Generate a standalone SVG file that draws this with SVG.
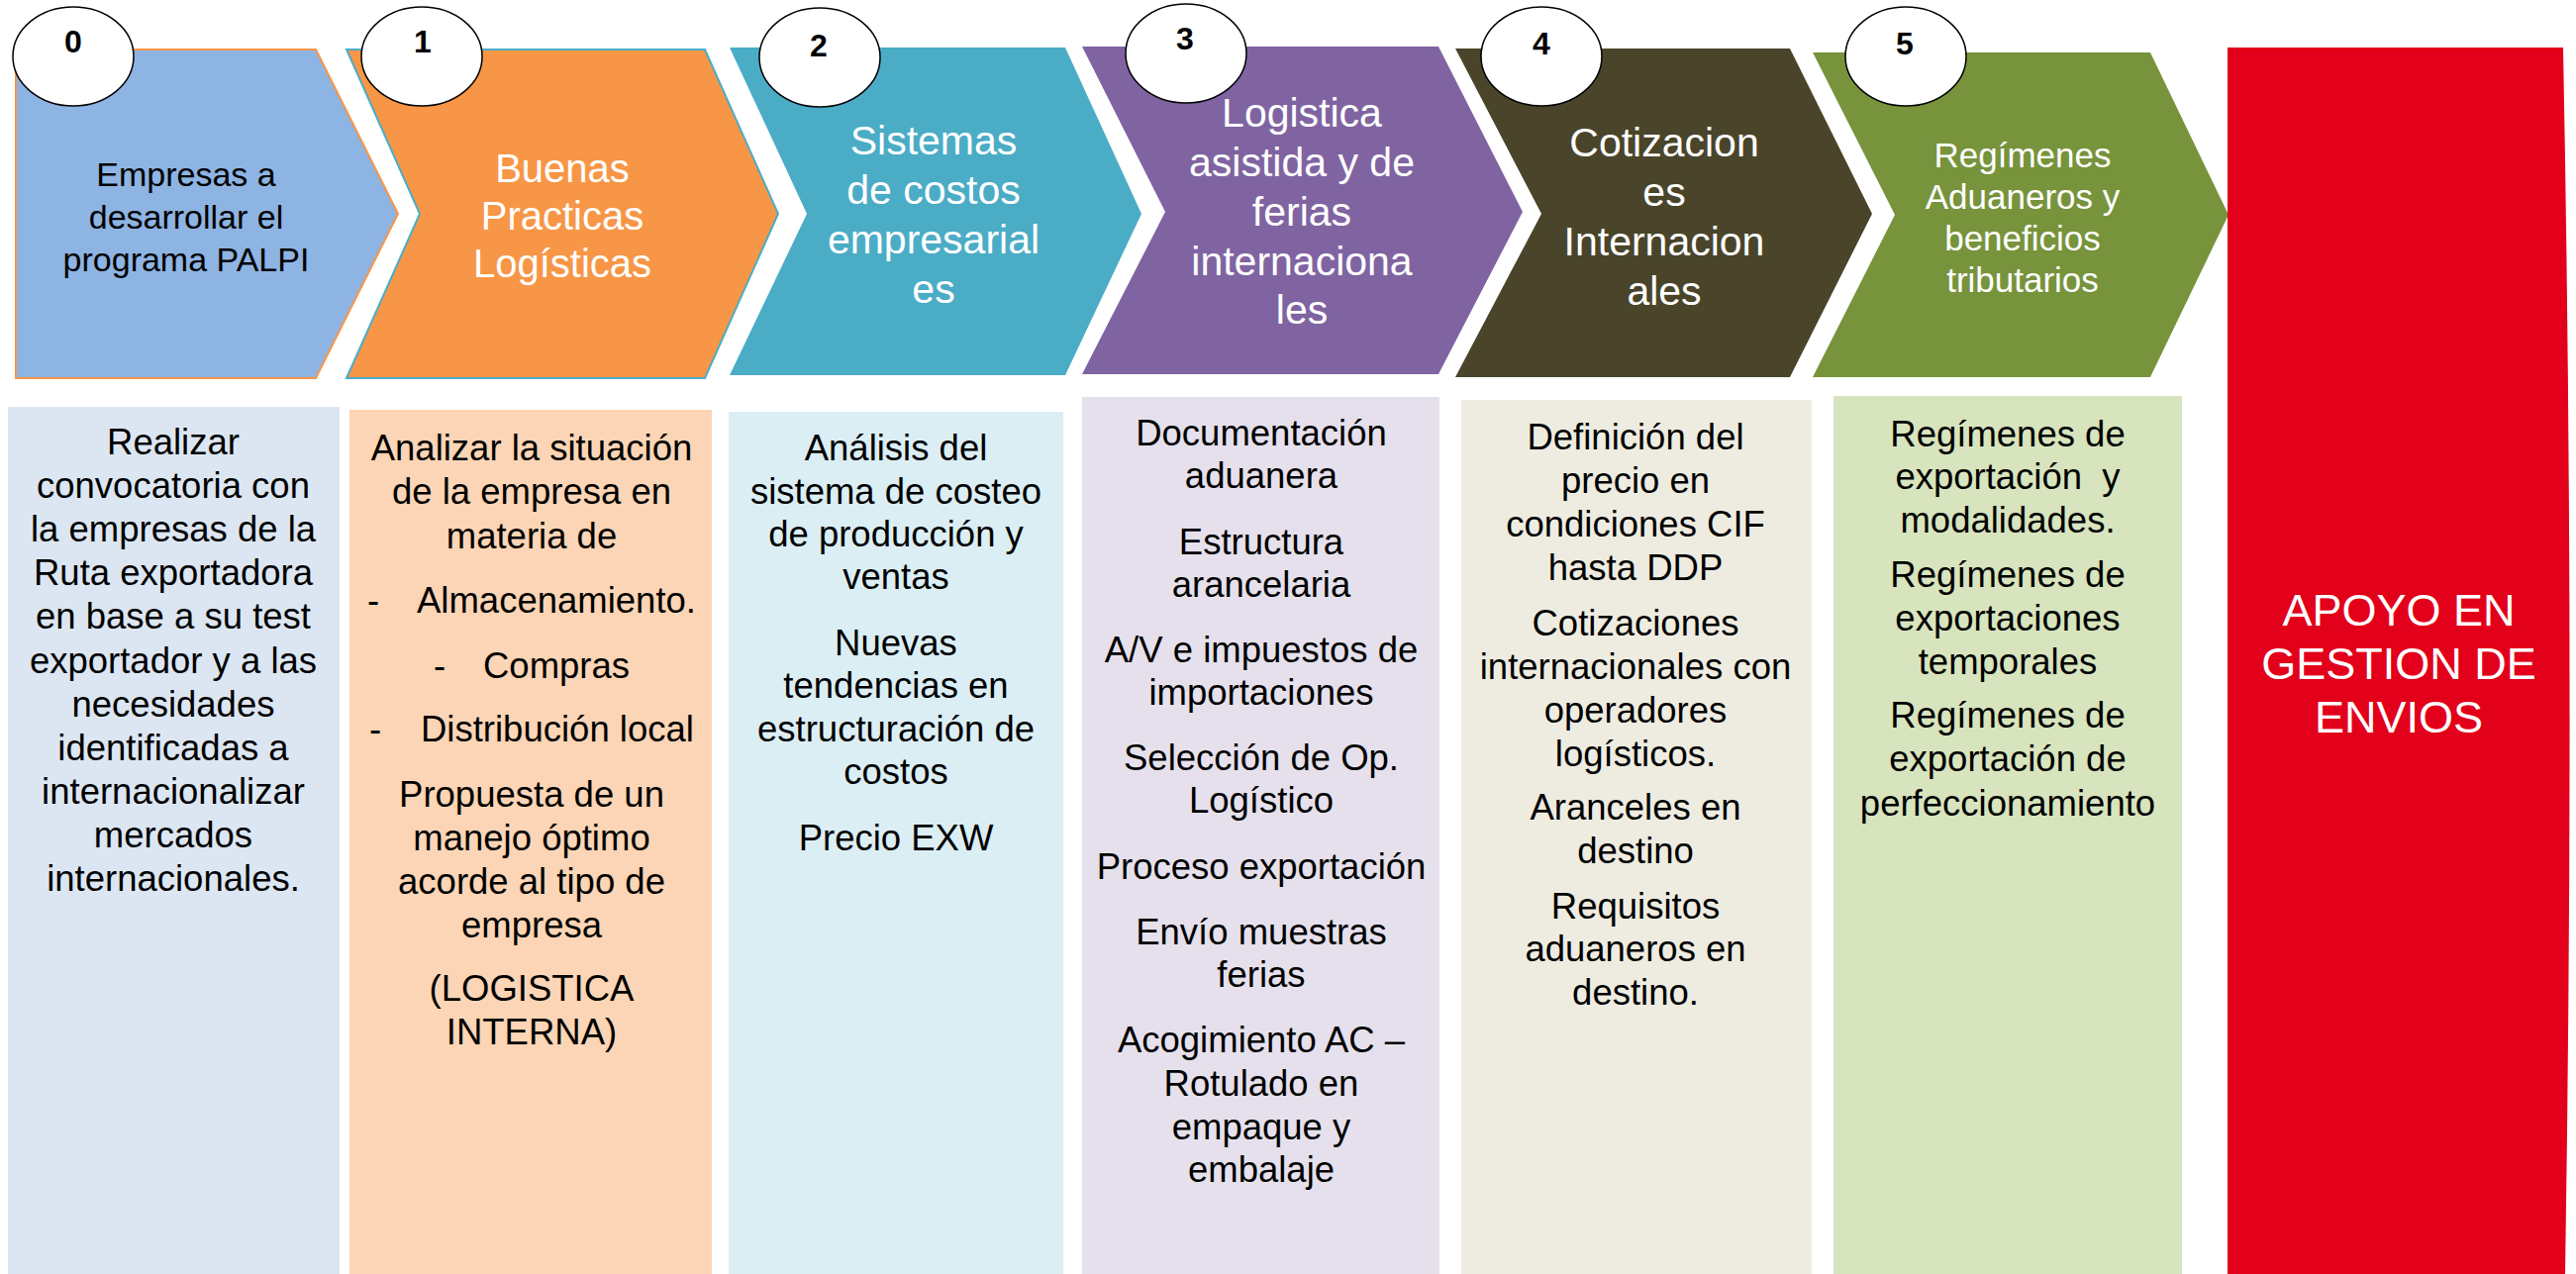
<svg xmlns="http://www.w3.org/2000/svg" width="2602" height="1287" viewBox="0 0 2602 1287">
<style>
text{font-family:"Liberation Sans",Arial,sans-serif;text-anchor:middle}
.b{font-size:36.5px;fill:#000}
.h{fill:#fff}
.num{font-size:32px;font-weight:bold;fill:#000}
.circ{fill:#fff;stroke:#000;stroke-width:1.5}
</style>
<rect width="2602" height="1287" fill="#fff"/>
<g id="connectors"/>
<g id="step0">
<polygon points="16,50 319,50 402,216 319,382 16,382" fill="#8EB4E3" stroke="#F79646" stroke-width="2"/>
<text style="font-size:34px" fill="#000"><tspan x="188" y="188">Empresas a</tspan><tspan x="188" y="231">desarrollar el</tspan><tspan x="188" y="274">programa PALPI</tspan></text>
<ellipse class="circ" cx="74" cy="57" rx="61" ry="50"/>
<text class="num" x="74" y="53">0</text>
</g>
<g id="step1">
<polygon points="350,50 712,50 786,216 712,382 350,382 424,216" fill="#F79646" stroke="#4BACC6" stroke-width="2"/>
<text class="h" style="font-size:40px"><tspan x="568" y="184">Buenas</tspan><tspan x="568" y="232">Practicas</tspan><tspan x="568" y="280">Logísticas</tspan></text>
<ellipse class="circ" cx="426" cy="57" rx="61" ry="50"/>
<text class="num" x="427" y="53">1</text>
</g>
<g id="step2">
<polygon points="737,48 1076,48 1153,216 1076,379 737,379 815,216" fill="#4BACC6"/>
<text class="h" style="font-size:41px"><tspan x="943" y="156">Sistemas</tspan><tspan x="943" y="206">de costos</tspan><tspan x="943" y="256">empresarial</tspan><tspan x="943" y="306">es</tspan></text>
<ellipse class="circ" cx="828" cy="58" rx="61" ry="50"/>
<text class="num" x="827" y="57">2</text>
</g>
<g id="step3">
<polygon points="1093,47 1453,47 1538,214 1453,378 1093,378 1177,214" fill="#8064A2"/>
<text class="h" style="font-size:41px"><tspan x="1315" y="128">Logistica</tspan><tspan x="1315" y="178">asistida y de</tspan><tspan x="1315" y="228">ferias</tspan><tspan x="1315" y="278">internaciona</tspan><tspan x="1315" y="327">les</tspan></text>
<ellipse class="circ" cx="1198" cy="54" rx="61" ry="50"/>
<text class="num" x="1197" y="50">3</text>
</g>
<g id="step4">
<polygon points="1470,49 1808,49 1891,216 1808,381 1470,381 1557,216" fill="#4A452A"/>
<text class="h" style="font-size:41px"><tspan x="1681" y="158">Cotizacion</tspan><tspan x="1681" y="208">es</tspan><tspan x="1681" y="258">Internacion</tspan><tspan x="1681" y="308">ales</tspan></text>
<ellipse class="circ" cx="1557" cy="57" rx="61" ry="50"/>
<text class="num" x="1557" y="55">4</text>
</g>
<g id="step5">
<polygon points="1831,53 2172,53 2251,217 2172,381 1831,381 1914,217" fill="#77933C"/>
<text class="h" style="font-size:35px"><tspan x="2043" y="169">Regímenes</tspan><tspan x="2043" y="211">Aduaneros y</tspan><tspan x="2043" y="253">beneficios</tspan><tspan x="2043" y="295">tributarios</tspan></text>
<ellipse class="circ" cx="1925" cy="57" rx="61" ry="50"/>
<text class="num" x="1924" y="55">5</text>
</g>
<g id="apoyo">
<path d="M2250,48 L2589,48 Q2601,668 2591,1287 L2250,1287 Z" fill="#E2001A"/>
<text class="h" style="font-size:45px"><tspan x="2423" y="632">APOYO EN</tspan><tspan x="2423" y="686">GESTION DE</tspan><tspan x="2423" y="740">ENVIOS</tspan></text>
</g>
<g id="detail0">
<rect x="8" y="411" width="335" height="876" fill="#DCE6F2"/>
<text class="b"><tspan x="175" y="459">Realizar</tspan><tspan x="175" y="503">convocatoria con</tspan><tspan x="175" y="547">la empresas de la</tspan><tspan x="175" y="591">Ruta exportadora</tspan><tspan x="175" y="635">en base a su test</tspan><tspan x="175" y="680">exportador y a las</tspan><tspan x="175" y="724">necesidades</tspan><tspan x="175" y="768">identificadas a</tspan><tspan x="175" y="812">internacionalizar</tspan><tspan x="175" y="856">mercados</tspan><tspan x="175" y="900">internacionales.</tspan></text>
</g>
<g id="detail1">
<rect x="353" y="414" width="366" height="873" fill="#FBD5B5"/>
<text class="b"><tspan x="537" y="465">Analizar la situación</tspan><tspan x="537" y="509">de la empresa en</tspan><tspan x="537" y="554">materia de</tspan></text>
<text class="b" style="text-anchor:start"><tspan x="371" y="619">-</tspan><tspan x="421" y="619">Almacenamiento.</tspan><tspan x="438" y="685">-</tspan><tspan x="488" y="685">Compras</tspan><tspan x="373" y="749">-</tspan><tspan x="425" y="749">Distribución local</tspan></text>
<text class="b"><tspan x="537" y="815">Propuesta de un</tspan><tspan x="537" y="859">manejo óptimo</tspan><tspan x="537" y="903">acorde al tipo de</tspan><tspan x="537" y="947">empresa</tspan><tspan x="537" y="1011">(LOGISTICA</tspan><tspan x="537" y="1055">INTERNA)</tspan></text>
</g>
<g id="detail2">
<rect x="736" y="416" width="338" height="871" fill="#DBEEF4"/>
<text class="b"><tspan x="905" y="465">Análisis del</tspan><tspan x="905" y="509">sistema de costeo</tspan><tspan x="905" y="552">de producción y</tspan><tspan x="905" y="595">ventas</tspan><tspan x="905" y="662">Nuevas</tspan><tspan x="905" y="705">tendencias en</tspan><tspan x="905" y="749">estructuración de</tspan><tspan x="905" y="792">costos</tspan><tspan x="905" y="859">Precio EXW</tspan></text>
</g>
<g id="detail3">
<rect x="1093" y="401" width="361" height="886" fill="#E5E0EC"/>
<text class="b"><tspan x="1274" y="450">Documentación</tspan><tspan x="1274" y="493">aduanera</tspan><tspan x="1274" y="560">Estructura</tspan><tspan x="1274" y="603">arancelaria</tspan><tspan x="1274" y="669">A/V e impuestos de</tspan><tspan x="1274" y="712">importaciones</tspan><tspan x="1274" y="778">Selección de Op.</tspan><tspan x="1274" y="821">Logístico</tspan><tspan x="1274" y="888">Proceso exportación</tspan><tspan x="1274" y="954">Envío muestras</tspan><tspan x="1274" y="997">ferias</tspan><tspan x="1274" y="1063">Acogimiento AC –</tspan><tspan x="1274" y="1107">Rotulado en</tspan><tspan x="1274" y="1151">empaque y</tspan><tspan x="1274" y="1194">embalaje</tspan></text>
</g>
<g id="detail4">
<rect x="1476" y="404" width="354" height="883" fill="#EEECE1"/>
<text class="b"><tspan x="1652" y="454">Definición del</tspan><tspan x="1652" y="498">precio en</tspan><tspan x="1652" y="542">condiciones CIF</tspan><tspan x="1652" y="586">hasta DDP</tspan><tspan x="1652" y="642">Cotizaciones</tspan><tspan x="1652" y="686">internacionales con</tspan><tspan x="1652" y="730">operadores</tspan><tspan x="1652" y="774">logísticos.</tspan><tspan x="1652" y="828">Aranceles en</tspan><tspan x="1652" y="872">destino</tspan><tspan x="1652" y="928">Requisitos</tspan><tspan x="1652" y="971">aduaneros en</tspan><tspan x="1652" y="1015">destino.</tspan></text>
</g>
<g id="detail5">
<rect x="1852" y="400" width="352" height="887" fill="#D7E4BD"/>
<text class="b"><tspan x="2028" y="451">Regímenes de</tspan><tspan x="2028" y="494">exportación&#160; y</tspan><tspan x="2028" y="538">modalidades.</tspan><tspan x="2028" y="593">Regímenes de</tspan><tspan x="2028" y="637">exportaciones</tspan><tspan x="2028" y="681">temporales</tspan><tspan x="2028" y="735">Regímenes de</tspan><tspan x="2028" y="779">exportación de</tspan><tspan x="2028" y="824">perfeccionamiento</tspan></text>
</g>
</svg>
